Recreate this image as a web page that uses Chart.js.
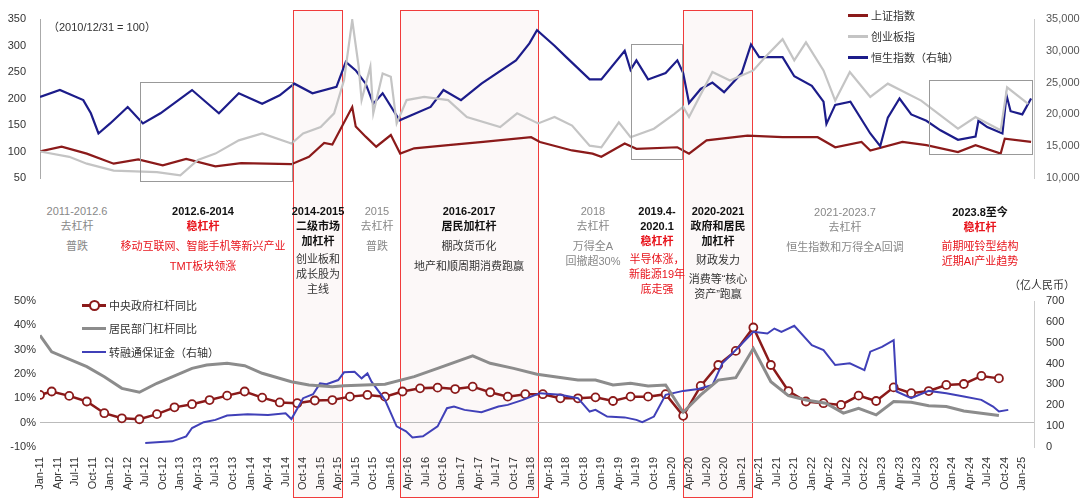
<!DOCTYPE html>
<html><head><meta charset="utf-8">
<script src="https://cdn.jsdelivr.net/npm/chart.js@4/dist/chart.umd.min.js"></script>
<style>
body{margin:0;width:1080px;height:501px;background:#fff;position:relative;overflow:hidden;font-family:"Liberation Sans","Noto Sans CJK SC",sans-serif;}
canvas{position:absolute;left:0;z-index:2}
.box{position:absolute;z-index:1;box-sizing:border-box}
.red{border:1.5px solid #f03c3c;background:#fcf8f8}
.gray{border:1.5px solid #999;z-index:3}
.t{position:absolute;z-index:4;font-size:11px;line-height:15px;text-align:center;transform:translateX(-50%);white-space:nowrap;color:#333}
.b{font-weight:bold;color:#111}
.r{color:#e8141c}
.g{color:#888}
.lg{position:absolute;z-index:4;font-size:11px;color:#333;display:flex;align-items:center;white-space:nowrap}
.sw{display:inline-block;width:20px;height:3px;margin-right:3px}
</style></head><body>
<div class="box red" style="left:293px;top:10px;width:50px;height:488px"></div>
<div class="box red" style="left:400px;top:10px;width:139px;height:488px"></div>
<div class="box red" style="left:683px;top:10px;width:70px;height:488px"></div>
<div class="box gray" style="left:140px;top:82px;width:153px;height:100px"></div>
<div class="box gray" style="left:631px;top:44px;width:52px;height:116px"></div>
<div class="box gray" style="left:929px;top:80px;width:104px;height:75px"></div>

<div class="t" style="left:86px;top:20px;transform:none;left:48px;color:#333">（2010/12/31 = 100）</div>

<div class="lg" style="left:848px;top:7px"><span class="sw" style="background:#8b1a1a"></span>上证指数</div>
<div class="lg" style="left:848px;top:28px"><span class="sw" style="background:#c4c4c4"></span>创业板指</div>
<div class="lg" style="left:848px;top:49px"><span class="sw" style="background:#1c1c8a"></span>恒生指数（右轴）</div>

<div class="lg" style="left:82px;top:297px"><span style="position:relative;display:inline-block;width:24px;height:10px;margin-right:3px"><span style="position:absolute;left:0;top:4px;width:24px;height:3px;background:#8b1a1a"></span><span style="position:absolute;left:7px;top:0;width:7px;height:7px;border:2px solid #8b1a1a;border-radius:50%;background:#fff"></span></span>中央政府杠杆同比</div>
<div class="lg" style="left:82px;top:320px"><span class="sw" style="background:#8c8c8c;width:24px"></span>居民部门杠杆同比</div>
<div class="lg" style="left:82px;top:344px"><span class="sw" style="background:#4040b8;width:24px;height:2px"></span>转融通保证金（右轴）</div>

<div class="t g" style="left:77px;top:204px">2011-2012.6<br>去杠杆<div style="margin-top:5px">普跌</div></div>
<div class="t" style="left:203px;top:204px"><span class="b">2012.6-2014</span><br><span class="b r">稳杠杆</span><div class="r" style="margin-top:5px">移动互联网、智能手机等新兴产业</div><div class="r" style="margin-top:5px">TMT板块领涨</div></div>
<div class="t" style="left:318px;top:204px"><div class="b">2014-2015<br>二级市场<br>加杠杆</div><div style="margin-top:3px">创业板和<br>成长股为<br>主线</div></div>
<div class="t g" style="left:377px;top:204px">2015<br>去杠杆<div style="margin-top:5px">普跌</div></div>
<div class="t" style="left:469px;top:204px"><span class="b">2016-2017<br>居民加杠杆</span><div style="margin-top:5px">棚改货币化</div><div style="margin-top:5px">地产和顺周期消费跑赢</div></div>
<div class="t g" style="left:593px;top:204px">2018<br>去杠杆<div style="margin-top:5px">万得全A<br>回撤超30%</div></div>
<div class="t" style="left:657px;top:204px"><span class="b">2019.4-<br>2020.1</span><br><span class="b r">稳杠杆</span><div class="r" style="margin-top:3px">半导体涨，<br>新能源19年<br>底走强</div></div>
<div class="t" style="left:718px;top:204px"><span class="b">2020-2021<br>政府和居民<br>加杠杆</span><div style="margin-top:4px">财政发力</div><div style="margin-top:4px">消费等“核心<br>资产”跑赢</div></div>
<div class="t g" style="left:845px;top:205px">2021-2023.7<br>去杠杆<div style="margin-top:5px">恒生指数和万得全A回调</div></div>
<div class="t" style="left:980px;top:205px"><span class="b">2023.8至今</span><br><span class="b r">稳杠杆</span><div class="r" style="margin-top:4px">前期哑铃型结构<br>近期AI产业趋势</div></div>
<div class="t" style="left:1042px;top:278px">（亿人民币）</div>

<canvas id="c1" width="1080" height="195" style="top:0"></canvas>
<canvas id="c2" width="1080" height="213" style="top:288px"></canvas>
<script>
// ---- top chart data (month index: 0 = Jan 2011) ----
const shMonths=[0,3.7,8,12.6,16.8,21,25,30,34.4,43,46,48.6,50,53.4,54,55.7,57.5,60,61.6,64,69.8,75.8,84,85.5,91,94.5,96,100,102,109,111,114,121,127,133,136,140.5,142,147.5,151.6,157,160,164.3,165,169.5];
const shValues=[100,109,96,77,85,74,86,72,78,76,90,116,113,184,147,128,109,131,96,106,112,118,127,118,102,96,90,115,105,108,96,121,130,127,127,108,118,102,118,112,99,112,96,124,118];
const cyMonths=[0,5,8,12.6,20,24,27,30,34,38,43,45,48,50.3,52,53.4,54.5,55,56.5,57,58.6,60,61,62.7,65.7,69.8,73,78.7,81.6,85.2,88,91,94,96,99,101,105,108.5,110,111,115,118,122,124,127,129,131,134,136,138.5,142,145,150.7,157,160,164.3,165.4,169];
const cyValues=[100,90,77,64,61,55,84,96,121,134,115,134,146,172,235,348,260,197,260,172,247,241,153,197,203,197,165,146,172,153,165,149,111,108,155,127,143,171,184,165,250,234,253,278,312,272,306,253,196,250,203,228,196,143,165,140,221,190];
const hsMonths=[0,3.4,7.4,8.7,10,12,15,17.6,20.6,26,30.6,34,38,41,43.5,46.6,50.7,52.3,54,55.7,57,58.6,61.5,66.8,69,72,75.5,81.4,83.7,85,88,90,94,96,100,101,102,104,107,109,110,111,113,115,117,120,121.6,123,127,129,132,134,134.5,136,138.6,142,143.7,145,147,149,151.6,154,157,160,160.5,162,164.6,165.3,166,168,169.5];
const hsValues=[22750,23830,22250,20170,17000,18580,21170,18580,20170,23830,20170,23330,21670,23000,24830,23330,24330,28250,26920,24830,21670,23330,19080,21170,23830,22250,24830,28500,31170,33250,30800,29000,25500,25500,30000,27000,28500,25500,26500,28500,26500,21800,24000,25000,23500,26500,31000,29000,29000,26000,24500,22000,18500,21500,22000,17000,15000,19500,22500,20000,19000,17500,16000,16500,19000,18000,17000,23000,20500,20000,22500];
const leftTicks=[50,100,150,200,250,300,350];
const rightTicks=[10000,15000,20000,25000,30000,35000];
// ---- bottom chart data ----
const govMonths=[0,2,5,8,11,14,17,20,23,26,29,32,35,38,41,44,47,50,53,56,59,62,65,68,71,74,77,80,83,86,89,92,95,98,101,104,107,110,113,116,119,122,125,128,131,134,137,140,143,146,149,152,155,158,161,164];
const govValues=[11.4,12.8,11,8.7,3.9,1.8,1.4,3.5,6.3,7.6,9.3,11.1,12.8,10.3,8.3,8,9.1,9.3,10.7,11.4,10.7,12.8,14.1,14.4,13.8,14.8,12.5,10.7,11.7,11.7,10,10,10.4,8.9,10.7,10.7,11.7,2.8,15.1,23.7,29.5,39.1,23.7,13,8.7,8,7.3,11.1,8.9,14.5,12.1,13,15.5,15.9,19.2,18.2];
const hhMonths=[0,2,8,11,14,17,20,26,28.5,32,35,38,43,46,50,52,59,64,68,74,77,81,85,92,95,98,101,104,107,110,113,116,119,122,125,128,131,134.4,137.4,140,143,146,149,152,155,158,161,164];
const hhValues=[35.9,29.1,23,18.9,14.1,12.5,16.2,22.3,23.7,24.4,23.4,20.3,16.8,15.5,14.8,15.2,15.8,18.9,22.3,27.5,24.4,22.3,19.9,17.5,17.5,15.5,16.2,15.1,15.5,4.3,11.4,17.5,18.5,30.5,16.8,11.1,9.3,8,3.9,5.9,3.2,8.7,8.4,7,6.6,4.8,3.9,2.9];
const mgMonths=[18,22.6,25,26,28,30,32,35.5,39,42,43,45,46.7,47.9,49,51,52,53.8,55,56,56.7,59,61,62.6,63.7,65.5,68,69.6,70.8,72.6,75.5,78.4,80,82.6,85.5,89,92,94,95,97,100,102,103,105,107,110,112.6,115,116.7,119,122,124.4,125.6,126.8,129,132,134,136,138.5,141,142,144,146,146.5,149,152,155,158,161,163,164,165.6];
const mgValues=[19,27,51,91,119,130,151,157,154,162,134,234,253,305,301,321,358,361,329,353,313,226,99,75,46,51,99,186,194,178,167,194,202,226,258,250,234,170,178,146,142,130,119,146,250,269,278,297,401,465,552,544,568,552,581,488,465,393,401,369,457,480,512,266,234,269,258,242,226,194,170,178];
const monNames=['Jan','Apr','Jul','Oct'];

const pairs=(xs,ys)=>xs.map((x,i)=>({x:x,y:ys[i]}));
const fw=w=>function(a){a.width=w;};
const tickFont={family:'"Liberation Sans",Arial',size:11};

new Chart(document.getElementById('c1'),{type:'line',
 data:{datasets:[
  {data:pairs(cyMonths,cyValues),borderColor:'#c4c4c4',borderWidth:2.2,pointRadius:0,yAxisID:'y',tension:0},
  {data:pairs(hsMonths,hsValues),borderColor:'#1c1c8a',borderWidth:2.2,pointRadius:0,yAxisID:'y1',tension:0},
  {data:pairs(shMonths,shValues),borderColor:'#8b1a1a',borderWidth:2.2,pointRadius:0,yAxisID:'y',tension:0}]},
 options:{responsive:false,devicePixelRatio:1,animation:false,layout:{padding:{top:19,bottom:17}},
  plugins:{legend:{display:false},tooltip:{enabled:false}},
  scales:{x:{type:'linear',min:0,max:170,display:false},
   y:{min:50,max:350,afterFit:fw(40),afterBuildTicks:a=>{a.ticks=leftTicks.map(v=>({value:v}));},
      grid:{display:false,drawTicks:true},border:{color:'#aaa'},ticks:{color:'#333',font:tickFont,padding:6}},
   y1:{position:'right',min:10000,max:35000,afterFit:fw(46),afterBuildTicks:a=>{a.ticks=rightTicks.map(v=>({value:v}));},
      grid:{display:false},border:{color:'#ccc'},ticks:{color:'#555',font:tickFont,padding:4,callback:v=>v.toLocaleString('en-US')}}}}});

new Chart(document.getElementById('c2'),{type:'line',
 data:{datasets:[
  {data:pairs(hhMonths,hhValues),borderColor:'#8c8c8c',borderWidth:3,pointRadius:0,yAxisID:'y'},
  {data:pairs(mgMonths,mgValues),borderColor:'#4040b8',borderWidth:2,pointRadius:0,yAxisID:'y1'},
  {data:pairs(govMonths,govValues),borderColor:'#8b1a1a',borderWidth:2.5,pointRadius:4,pointBorderWidth:1.8,pointBackgroundColor:'#fff',pointBorderColor:'#8b1a1a',yAxisID:'y'}]},
 options:{responsive:false,devicePixelRatio:1,animation:false,layout:{padding:{top:13,bottom:0}},
  plugins:{legend:{display:false},tooltip:{enabled:false}},
  scales:{x:{type:'linear',min:0,max:170,afterFit:a=>{a.height=54;},border:{display:false},grid:{display:false},
     afterBuildTicks:a=>{const t=[];for(let m=0;m<=168;m+=3)t.push({value:m});a.ticks=t;},
     ticks:{minRotation:90,maxRotation:90,autoSkip:false,color:'#333',font:tickFont,padding:2,
       callback:v=>monNames[(v%12)/3]+'-'+String(11+Math.floor(v/12))}},
   y:{min:-10,max:50,afterFit:fw(40),ticks:{stepSize:10,color:'#333',font:tickFont,padding:4,callback:v=>v+'%'},
     border:{display:false},grid:{color:c=>c.tick&&c.tick.value===0?'#bbb':'transparent',drawTicks:false,lineWidth:1}},
   y1:{position:'right',min:0,max:700,afterFit:fw(46),ticks:{stepSize:100,color:'#333',font:tickFont,padding:4},
     border:{color:'#ccc'},grid:{display:false}}}}});
</script>
</body></html>
